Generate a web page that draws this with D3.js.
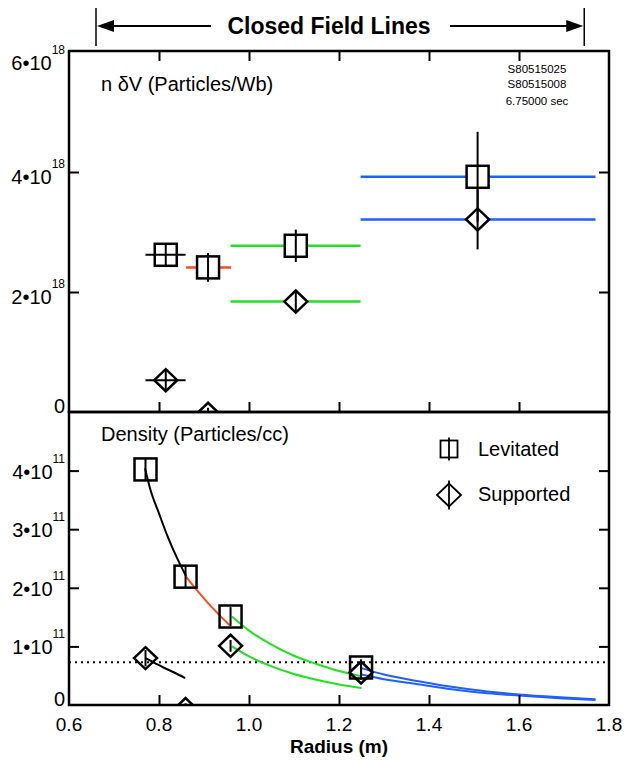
<!DOCTYPE html>
<html><head><meta charset="utf-8">
<script src="https://cdn.jsdelivr.net/npm/d3@7"></script>
<style>body{margin:0;background:#fff}text{font-family:"Liberation Sans",Arial,Helvetica,sans-serif;fill:#000}</style>
</head><body><svg id="c" width="628" height="762"></svg>
<script>
// ---------- data ----------
const xTickValues = [0.6, 0.8, 1.0, 1.2, 1.4, 1.6, 1.8];
const xTickLabels = ["0.6", "0.8", "1.0", "1.2", "1.4", "1.6", "1.8"];
// top panel (units of 1e18 particles/Wb)
const topTickValues = [0, 2, 4, 6];
const topTickMant = ["0", "2\u202210", "4\u202210", "6\u202210"];
const topTickExp = ["", "18", "18", "18"];
// bottom panel (units of 1e11 particles/cc)
const botTickValues = [0, 1, 2, 3, 4];
const botTickMant = ["0", "1\u202210", "2\u202210", "3\u202210", "4\u202210"];
const botTickExp = ["", "11", "11", "11", "11"];

// radial bins
const binLo = [0.77, 0.86, 0.959, 1.248];
const binHi = [0.859, 0.96, 1.248, 1.77];
const binColor = ["#000000", "#ff4b1f", "#22e022", "#2060ff"];
const binMid = [0.815, 0.909, 1.104, 1.508];

// n dV
const levNdV = [2.62, 2.41, 2.77, 3.92];
const levNdVErr = [0.18, 0.24, 0.27, 0.75];
const supNdV = [0.53, -0.03, 1.84, 3.21];
const supNdVErr = [0.17, 0.1, 0.17, 0.5];

// density at inner bin edge
const densR = [0.77, 0.859, 0.959, 1.249];
const levDens = [4.02, 2.19, 1.51, 0.64];
const levDensErr = [0.19, 0.19, 0.16, 0.14];
const supDens = [0.80, -0.07, 1.01, 0.555];
const supDensErr = [0.14, 0.1, 0.1, 0.12];

// profile curves [r, density]
const curveLevBlack = [[0.769, 4.04], [0.78, 3.7], [0.80, 3.27], [0.82, 2.86], [0.84, 2.51], [0.86, 2.2]];
const curveLevRed = [[0.86, 2.19], [0.885, 1.95], [0.91, 1.73], [0.935, 1.53], [0.957, 1.36]];
const curveLevGreen = [[0.962, 1.51], [1.0, 1.27], [1.05, 1.03], [1.1, 0.84], [1.15, 0.70], [1.2, 0.58], [1.25, 0.49]];
const curveSupGreen = [[0.962, 1.0], [1.0, 0.83], [1.05, 0.66], [1.1, 0.53], [1.15, 0.43], [1.2, 0.35], [1.25, 0.29]];
const curveLevBlue = [[1.25, 0.63], [1.3, 0.52], [1.38, 0.40], [1.45, 0.31], [1.53, 0.23], [1.6, 0.18], [1.7, 0.13], [1.77, 0.10]];
const curveSupBlue = [[1.25, 0.52], [1.3, 0.44], [1.38, 0.35], [1.45, 0.27], [1.53, 0.20], [1.6, 0.16], [1.7, 0.11], [1.77, 0.085]];
const curveSupBlack = [[0.77, 0.80], [0.79, 0.72], [0.81, 0.64], [0.835, 0.55], [0.858, 0.46]];
const curves = [
  {pts: curveLevBlack, color: binColor[0]},
  {pts: curveLevRed, color: binColor[1]},
  {pts: curveLevGreen, color: binColor[2]},
  {pts: curveSupGreen, color: binColor[2]},
  {pts: curveLevBlue, color: binColor[3]},
  {pts: curveSupBlue, color: binColor[3]},
  {pts: curveSupBlack, color: binColor[0]}
];
const densityThreshold = 0.73;
const closedStart = 0.66, closedEnd = 1.745;
const shotLines = ["S80515025", "S80515008", "6.75000 sec"];

// ---------- layout ----------
const L = 69, R = 609, T = 51, M = 412, B = 705;
const svg = d3.select("#c");
const x = d3.scaleLinear().domain([0.6, 1.8]).range([L, R]);
const yT = d3.scaleLinear().domain([0, 6]).range([M, T + 1]);
const yB = d3.scaleLinear().domain([0, 5]).range([B, M]);

const defs = svg.append("defs");
defs.append("clipPath").attr("id", "clipT").append("rect").attr("x", L).attr("y", T).attr("width", R - L).attr("height", M - T);
defs.append("clipPath").attr("id", "clipB").append("rect").attr("x", L).attr("y", M).attr("width", R - L).attr("height", B - M);

function square(g, cx, cy, s, sw, fill) {
  g.append("rect").attr("x", cx - s / 2).attr("y", cy - s / 2).attr("width", s).attr("height", s)
    .attr("fill", fill).attr("stroke", "#000").attr("stroke-width", sw);
}
function diamond(g, cx, cy, w, h, sw, fill) {
  g.append("path").attr("d", `M${cx - w / 2},${cy}L${cx},${cy - h / 2}L${cx + w / 2},${cy}L${cx},${cy + h / 2}Z`)
    .attr("fill", fill).attr("stroke", "#000").attr("stroke-width", sw);
}
function vline(g, xx, y1, y2, sw, col) {
  g.append("line").attr("x1", xx).attr("x2", xx).attr("y1", y1).attr("y2", y2).attr("stroke", col || "#000").attr("stroke-width", sw);
}
function hline(g, x1, x2, yy, sw, col) {
  return g.append("line").attr("x1", x1).attr("x2", x2).attr("y1", yy).attr("y2", yy).attr("stroke", col || "#000").attr("stroke-width", sw);
}

// ---------- top panel ----------
const gT = svg.append("g").attr("clip-path", "url(#clipT)");
binLo.forEach((lo, i) => {
  if (i === 0) return;
  hline(gT, x(lo), x(binHi[i]), yT(levNdV[i]), 2.5, binColor[i]);
  hline(gT, x(lo), x(binHi[i]), yT(supNdV[i]), 2.5, binColor[i]);
});
binMid.forEach((r, i) => {
  square(gT, x(r), yT(levNdV[i]), 22, 2.5, "#fff");
  diamond(gT, x(r), yT(supNdV[i]), 23, 22, 2.5, "#fff");
});
// first bin: black horizontal error bars over the symbols
hline(gT, x(binLo[0]), x(binHi[0]), yT(levNdV[0]), 2, binColor[0]);
hline(gT, x(binLo[0]), x(binHi[0]), yT(supNdV[0]), 2, binColor[0]);
binMid.forEach((r, i) => {
  vline(gT, x(r), yT(levNdV[i] - levNdVErr[i]), yT(levNdV[i] + levNdVErr[i]), 2);
  vline(gT, x(r), yT(supNdV[i] - supNdVErr[i]), yT(supNdV[i] + supNdVErr[i]), 2);
});

// ---------- bottom panel ----------
const gB = svg.append("g").attr("clip-path", "url(#clipB)");
hline(gB, L, R, yB(densityThreshold), 2, "#000").attr("stroke-dasharray", "2,4");
const line = d3.line().x(d => x(d[0])).y(d => yB(d[1])).curve(d3.curveMonotoneX);
curves.forEach(c => {
  gB.append("path").attr("d", line(c.pts)).attr("fill", "none").attr("stroke", c.color).attr("stroke-width", 2);
});
densR.forEach((r, i) => {
  square(gB, x(r), yB(levDens[i]), 22, 2.5, "none");
  diamond(gB, x(r), yB(supDens[i]), 23, 22, 2.5, "none");
  vline(gB, x(r), yB(levDens[i] - levDensErr[i]), yB(levDens[i] + levDensErr[i]), 2);
  vline(gB, x(r), yB(supDens[i] - supDensErr[i]), yB(supDens[i] + supDensErr[i]), 2);
});

// ---------- axes / frames ----------
function ticks(axisGen, tx, ty, vals, size) {
  const g = svg.append("g").attr("transform", `translate(${tx},${ty})`)
    .call(axisGen.tickValues(vals).tickSize(size).tickFormat(""));
  g.select(".domain").remove();
  g.selectAll(".tick line").attr("stroke", "#000").attr("stroke-width", 2);
}
const xInner = xTickValues.slice(1, -1);
ticks(d3.axisBottom(x), 0, T, xInner, 10);       // top edge, pointing down
ticks(d3.axisTop(x), 0, M, xInner, 10);          // top panel bottom edge, pointing up
ticks(d3.axisTop(x), 0, B, xInner, 10);          // bottom panel bottom edge
ticks(d3.axisRight(yT), L, 0, [2, 4], 10);
ticks(d3.axisLeft(yT), R, 0, [2, 4], 10);
ticks(d3.axisRight(yB), L, 0, [1, 2, 3, 4], 10);
ticks(d3.axisLeft(yB), R, 0, [1, 2, 3, 4], 10);

svg.append("rect").attr("x", L).attr("y", T).attr("width", R - L).attr("height", M - T)
  .attr("fill", "none").attr("stroke", "#000").attr("stroke-width", 2.5);
svg.append("rect").attr("x", L).attr("y", M).attr("width", R - L).attr("height", B - M)
  .attr("fill", "none").attr("stroke", "#000").attr("stroke-width", 2.5);

// y tick labels
function yLabels(scale, vals, mant, exps, off, topOff) {
  vals.forEach((v, i) => {
    let by;
    if (exps[i] === "") by = scale(v) + 1;
    else by = scale(v) + off + (i === vals.length - 1 && topOff ? topOff : 0);
    const t = svg.append("text").attr("x", 65).attr("y", by).attr("text-anchor", "end").style("font-size", "20px");
    t.append("tspan").text(mant[i]);
    if (exps[i]) t.append("tspan").attr("dy", -16).style("font-size", "12px").text(exps[i]);
  });
}
yLabels(yT, topTickValues, topTickMant, topTickExp, 12, 6);
yLabels(yB, botTickValues, botTickMant, botTickExp, 8, 0);

// x tick labels
xTickValues.forEach((v, i) => {
  svg.append("text").attr("x", x(v)).attr("y", 731).attr("text-anchor", "middle").style("font-size", "19px").text(xTickLabels[i]);
});
svg.append("text").attr("x", (L + R) / 2).attr("y", 753).attr("text-anchor", "middle")
  .style("font-size", "19px").style("font-weight", "bold").text("Radius (m)");

// panel titles
svg.append("text").attr("x", 101).attr("y", 91).style("font-size", "20px").text("n \u03b4V (Particles/Wb)");
svg.append("text").attr("x", 101).attr("y", 441).style("font-size", "20px").text("Density (Particles/cc)");

// shot annotation
shotLines.forEach((s, i) => {
  svg.append("text").attr("x", 537).attr("y", [73, 88, 105][i]).attr("text-anchor", "middle").style("font-size", "11.5px").text(s);
});

// legend
square(svg, 449, 449, 17, 1.8, "none");
vline(svg, 449, 437.5, 460.5, 1.8);
diamond(svg, 449, 495, 24, 23, 1.8, "none");
vline(svg, 449, 480.5, 509.5, 1.8);
svg.append("text").attr("x", 478).attr("y", 456).style("font-size", "20px").text("Levitated");
svg.append("text").attr("x", 478).attr("y", 501).style("font-size", "20px").text("Supported");

// Closed field lines header
const hx1 = x(closedStart), hx2 = x(closedEnd), hy = 26;
vline(svg, hx1, 8, 46, 1.5);
vline(svg, hx2, 8, 46, 1.5);
hline(svg, hx1 + 10, 211, hy, 2);
hline(svg, 450, hx2 - 10, hy, 2);
svg.append("path").attr("d", `M${hx1 + 1},${hy}L${hx1 + 18},${hy - 6}L${hx1 + 18},${hy + 6}Z`).attr("fill", "#000");
svg.append("path").attr("d", `M${hx2 - 1},${hy}L${hx2 - 18},${hy - 6}L${hx2 - 18},${hy + 6}Z`).attr("fill", "#000");
svg.append("text").attr("x", (226 + 432) / 2).attr("y", 34).attr("text-anchor", "middle")
  .style("font-size", "23px").style("font-weight", "bold").text("Closed Field Lines");
</script></body></html>
